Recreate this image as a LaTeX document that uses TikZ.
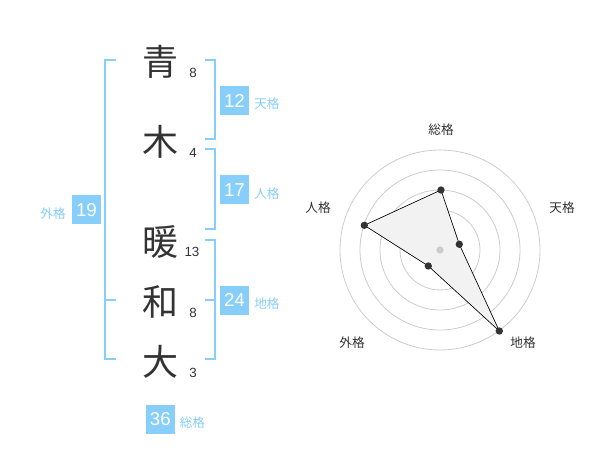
\documentclass[tikz,border=0pt]{standalone}
\usepackage{fontspec}
\setmainfont{Liberation Sans}
\newfontfamily\cjk{Noto Sans CJK JP}
\definecolor{sky}{RGB}{135,206,250}
\definecolor{ink}{RGB}{51,51,51}
\definecolor{ringgray}{RGB}{204,204,204}
\definecolor{fillgray}{RGB}{242,242,242}
\begin{document}
\begin{tikzpicture}[x=0.75pt,y=-0.75pt,
  kanji/.style={font=\cjk\fontsize{27}{27}\selectfont,text=ink,inner sep=0pt},
  strokes/.style={font=\fontsize{10}{10}\selectfont,text=ink,inner sep=0pt},
  numbox/.style={fill=sky,text=white,minimum width=21.75pt,minimum height=21.75pt,inner sep=0pt,font=\fontsize{14}{14}\selectfont},
  kaku/.style={font=\cjk\fontsize{9.5}{9.5}\selectfont,text=sky,inner sep=0pt},
  brk/.style={draw=sky,line width=1.5pt},
  ring/.style={draw=ringgray,line width=0.6pt},
  axlabel/.style={font=\cjk\fontsize{9.5}{9.5}\selectfont,text=ink,inner sep=0pt},
  dot/.style={circle,fill=ink,inner sep=0pt,minimum size=5.5pt}]
\useasboundingbox (0,0) rectangle (600,470);
% kanji
\node[kanji] (k1) at (160,62) {青};
\node[kanji] (k2) at (160,142) {木};
\node[kanji] (k3) at (160,242) {暖};
\node[kanji] (k4) at (160,302) {和};
\node[kanji] (k5) at (160,362) {大};
\node[strokes] (s1) at (193,73) {8};
\node[strokes] (s2) at (193,153) {4};
\node[strokes] (s3) at (192,252) {13};
\node[strokes] (s4) at (193,313) {8};
\node[strokes] (s5) at (193,373) {3};
% brackets
\coordinate (g1) at (116,60); \coordinate (g2) at (105,60);
\coordinate (g3) at (105,359); \coordinate (g4) at (116,359);
\coordinate (gm1) at (105,300); \coordinate (gm2) at (116,300);
\draw[brk] (g1) -- (g2) -- (g3) -- (g4);
\draw[brk] (gm1) -- (gm2);
\coordinate (t1) at (205,60); \coordinate (t2) at (214.5,60);
\coordinate (t3) at (214.5,139.5); \coordinate (t4) at (205,139.5);
\draw[brk] (t1) -- (t2) -- (t3) -- (t4);
\coordinate (j1) at (205,149.5); \coordinate (j2) at (214.5,149.5);
\coordinate (j3) at (214.5,229.5); \coordinate (j4) at (205,229.5);
\draw[brk] (j1) -- (j2) -- (j3) -- (j4);
\coordinate (c1) at (205,240); \coordinate (c2) at (214.5,240);
\coordinate (c3) at (214.5,359); \coordinate (c4) at (205,359);
\coordinate (cm1) at (205,300); \coordinate (cm2) at (214.5,300);
\draw[brk] (c1) -- (c2) -- (c3) -- (c4);
\draw[brk] (cm1) -- (cm2);
% boxes
\node[numbox] (b12) at (234.5,100.5) {12};
\node[kaku,anchor=west] (l12) at (254,104) {天格};
\node[numbox] (b17) at (234.5,190) {17};
\node[kaku,anchor=west] (l17) at (254,194) {人格};
\node[numbox] (b19) at (86.5,210) {19};
\node[kaku,anchor=east] (l19) at (66,214) {外格};
\node[numbox] (b24) at (234.5,300.3) {24};
\node[kaku,anchor=west] (l24) at (254,304) {地格};
\node[numbox] (b36) at (160.3,419) {36};
\node[kaku,anchor=west] (l36) at (179.5,422.5) {総格};
% radar
\coordinate (o) at (440,250);
\foreach \r in {20,40,60,80,100} \draw[ring] (o) circle[radius=\r*0.75pt];
\coordinate (p1) at (441,190);
\coordinate (p2) at (459.3,244.3);
\coordinate (p3) at (499.3,331);
\coordinate (p4) at (428.3,266);
\coordinate (p5) at (364.3,225.3);
\filldraw[fill=fillgray,draw=black,line width=0.5pt] (p1) -- (p2) -- (p3) -- (p4) -- (p5) -- cycle;
\node[circle,fill=ringgray,inner sep=0pt,minimum size=5.5pt] (oc) at (o) {};
\foreach \p in {p1,p2,p3,p4,p5} \node[dot] at (\p) {};
\node[axlabel] (a1) at (441,130) {総格};
\node[axlabel] (a2) at (562,208) {天格};
\node[axlabel] (a3) at (318,208) {人格};
\node[axlabel] (a4) at (352,343) {外格};
\node[axlabel] (a5) at (523,343) {地格};
\end{tikzpicture}
\end{document}
